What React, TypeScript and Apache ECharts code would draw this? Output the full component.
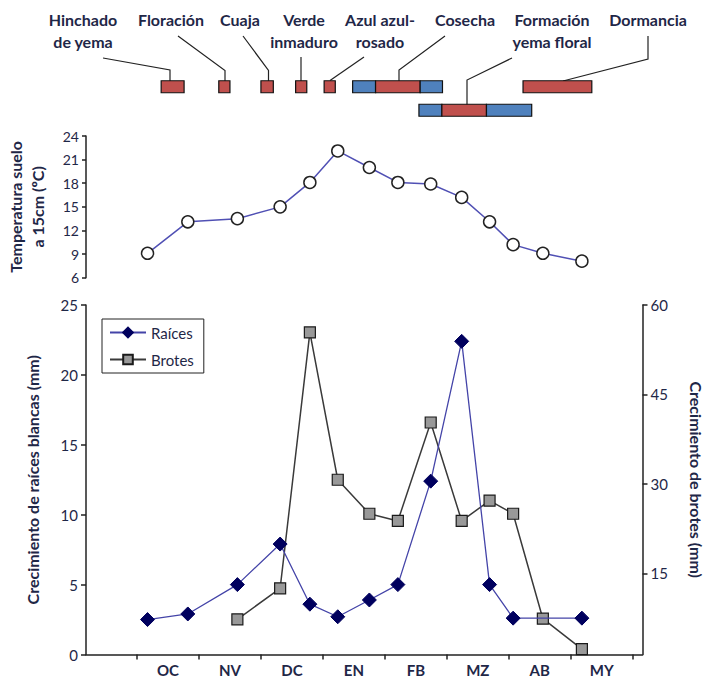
import React, { useEffect, useRef } from "react";
import * as echarts from "echarts";

// ---- data ----
const months = ["OC", "NV", "DC", "EN", "FB", "MZ", "AB", "MY"];
const monthTicks = [0, 1, 2, 3, 4, 5, 6, 7, 8];
const monthLabelPos = [0.5, 1.5, 2.5, 3.5, 4.5, 5.5, 6.5, 7.5];
// sampling dates, in months counted from 1 October
const sampleDates = [0.17, 0.82, 1.62, 2.31, 2.79, 3.24, 3.75, 4.21, 4.74, 5.24, 5.69, 6.07, 6.55, 7.18];
const temperatura = [9.1, 13.1, 13.5, 15, 18.1, 22.1, 20, 18.1, 17.9, 16.2, 13.1, 10.2, 9.1, 8.1];
const raices: (number | null)[] = [2.5, 2.9, 5, 7.9, 3.6, 2.7, 3.9, 5, 12.4, 22.4, 5, 2.6, null, 2.6];
const brotes: (number | null)[] = [null, null, 7.3, 12.5, 55.4, 30.7, 25, 23.8, 40.3, 23.8, 27.2, 25, 7.4, 2.3];
const tempTicks = [6, 24, 3];
const raicesTicks = [0, 25, 5];
const brotesLabels = [15, 30, 45, 60];

// phenology timeline (months from 1 October)
const phenoStart = [0.39, 1.32, 2.0, 2.56, 3.02, 3.48, 3.85, 4.57, 6.23, 4.55, 4.92, 5.64];
const phenoEnd = [0.76, 1.5, 2.2, 2.74, 3.2, 3.85, 4.57, 4.93, 7.34, 4.92, 5.64, 6.37];
const phenoRow = [0, 0, 0, 0, 0, 0, 0, 0, 0, 1, 1, 1];
const phenoKind = [0, 0, 0, 0, 0, 1, 0, 1, 0, 1, 0, 1]; // 0 red, 1 blue
const phenoLabels = [
  ["Hinchado", "de yema"],
  ["Floración"],
  ["Cuaja"],
  ["Verde", "inmaduro"],
  ["Azul azul-", "rosado"],
  ["Cosecha"],
  ["Formación", "yema floral"],
  ["Dormancia"],
];

const X_MIN = -0.823;
const X_MAX = 8.158;
const TXT = "#1f2747";
const FONT = "Lato";

export default function App() {
  const ref = useRef<HTMLDivElement>(null);
  useEffect(() => {
    if (!ref.current) return;
    const chart = echarts.init(ref.current, undefined, { renderer: "svg" });

    const raicesData = sampleDates
      .map((d, i) => [d, raices[i]])
      .filter((p) => p[1] !== null);
    const brotesData = sampleDates
      .map((d, i) => [d, brotes[i]])
      .filter((p) => p[1] !== null);
    const tempData = sampleDates.map((d, i) => [d, temperatura[i]]);
    const phenoData = phenoStart.map((s, i) => [s, phenoEnd[i], phenoRow[i], phenoKind[i]]);

    const labelPos: [number, number][] = [
      [83, 19.5],
      [171, 19.5],
      [240, 19.5],
      [304, 19.5],
      [380, 19.5],
      [465, 19.5],
      [552, 19.5],
      [648, 19.5],
    ];
    const leaders: number[][][] = [
      [[103, 58], [170, 70], [170, 81]],
      [[178, 36], [225, 70.5], [225, 81]],
      [[243, 36], [268.5, 70.5], [268.5, 82]],
      [[301, 57], [301, 81]],
      [[364, 57], [330, 80.5]],
      [[445, 36], [399, 70], [399, 81]],
      [[512, 58], [467, 80], [467, 105]],
      [[648, 36], [648, 59], [563, 81]],
    ];
    const graphics: any[] = [];
    phenoLabels.forEach((lines, i) => {
      lines.forEach((t, j) => {
        graphics.push({
          type: "text",
          x: labelPos[i][0],
          y: labelPos[i][1] + j * 22,
          style: {
            text: t,
            fill: TXT,
            font: `bold 16px ${FONT}`,
            textAlign: "center",
            textVerticalAlign: "middle",
            align: "center",
            verticalAlign: "middle",
          },
        });
      });
    });
    leaders.forEach((pts) => {
      graphics.push({
        type: "polyline",
        shape: { points: pts },
        style: { stroke: "#222", lineWidth: 1.2, fill: null },
      });
    });

    const axisLineStyle = { color: "#222", width: 1.5 };

    chart.setOption({
      animation: false,
      textStyle: { fontFamily: FONT },
      graphic: graphics,
      grid: [
        { left: 86, right: 64.5, top: 305, height: 349.5, containLabel: false, outerBoundsMode: "none" },
        { left: 86, right: 64.5, top: 136, height: 141.7, containLabel: false, outerBoundsMode: "none" },
        { left: 86, right: 64.5, top: 75, height: 47, containLabel: false, outerBoundsMode: "none" },
      ],
      legend: {
        left: 102,
        top: 319,
        orient: "vertical",
        data: ["Raíces", "Brotes"],
        padding: [6, 10, 6, 7],
        itemGap: 12,
        itemWidth: 36,
        itemHeight: 12,
        borderColor: "#222",
        borderWidth: 1,
        textStyle: { fontSize: 15, color: TXT, fontFamily: FONT },
      },
      xAxis: [
        {
          type: "value",
          gridIndex: 0,
          min: X_MIN,
          max: X_MAX,
          splitLine: { show: false },
          axisLine: { onZero: false, lineStyle: axisLineStyle },
          axisTick: { show: true, length: 5, customValues: monthTicks, lineStyle: axisLineStyle },
          axisLabel: {
            customValues: monthLabelPos,
            formatter: (v: number) => months[Math.floor(v)] ?? "",
            fontSize: 15,
            fontWeight: "bold",
            color: TXT,
            margin: 8,
          },
        },
        { type: "value", gridIndex: 1, min: X_MIN, max: X_MAX, show: false },
        { type: "value", gridIndex: 2, min: X_MIN, max: X_MAX, show: false },
      ],
      yAxis: [
        {
          type: "value",
          gridIndex: 0,
          min: raicesTicks[0],
          max: raicesTicks[1],
          interval: raicesTicks[2],
          splitLine: { show: false },
          axisLine: { show: true, onZero: false, lineStyle: axisLineStyle },
          axisTick: { show: true, length: 5, lineStyle: axisLineStyle },
          axisLabel: { fontSize: 15, color: TXT, margin: 8 },
          name: "Crecimiento de raíces blancas (mm)",
          nameLocation: "middle",
          nameRotate: 90,
          nameGap: 46,
          nameTextStyle: { fontSize: 16, fontWeight: "bold", color: TXT },
        },
        {
          type: "value",
          gridIndex: 0,
          position: "right",
          min: 1.4,
          max: 60,
          splitLine: { show: false },
          axisLine: { show: true, onZero: false, lineStyle: axisLineStyle },
          axisTick: { show: true, length: 5, customValues: brotesLabels, lineStyle: axisLineStyle },
          axisLabel: { fontSize: 15, color: TXT, margin: 8, customValues: brotesLabels },
          name: "Crecimiento de brotes (mm)",
          nameLocation: "middle",
          nameRotate: -90,
          nameGap: 46,
          nameTextStyle: { fontSize: 16, fontWeight: "bold", color: TXT },
        },
        {
          type: "value",
          gridIndex: 1,
          min: tempTicks[0],
          max: tempTicks[1],
          interval: tempTicks[2],
          splitLine: { show: false },
          axisLine: { show: true, onZero: false, lineStyle: axisLineStyle },
          axisTick: { show: true, length: 4, lineStyle: axisLineStyle },
          axisLabel: { fontSize: 14, color: TXT, margin: 7 },
          name: "Temperatura suelo\na 15cm (ºC)",
          nameLocation: "middle",
          nameRotate: 90,
          nameGap: 38,
          nameTextStyle: { fontSize: 16, fontWeight: "bold", color: TXT, lineHeight: 22 },
        },
        {
          type: "category",
          gridIndex: 2,
          data: ["0", "1"],
          inverse: true,
          show: false,
        },
      ],
      series: [
        {
          name: "Brotes",
          type: "line",
          xAxisIndex: 0,
          yAxisIndex: 1,
          data: brotesData,
          symbol: "rect",
          symbolSize: 11,
          lineStyle: { color: "#3a3a3a", width: 1.5 },
          itemStyle: { color: "#999999", borderColor: "#1a1a1a", borderWidth: 1.2 },
          z: 3,
        },
        {
          name: "Raíces",
          type: "line",
          xAxisIndex: 0,
          yAxisIndex: 0,
          data: raicesData,
          symbol: "diamond",
          symbolSize: 14,
          lineStyle: { color: "#4444a8", width: 1.3 },
          itemStyle: { color: "#00005e", borderColor: "#00005e", borderWidth: 1 },
          z: 4,
        },
        {
          name: "Temperatura",
          type: "line",
          xAxisIndex: 1,
          yAxisIndex: 2,
          data: tempData,
          symbol: "circle",
          symbolSize: 12,
          lineStyle: { color: "#5050b4", width: 1.5 },
          itemStyle: { color: "#ffffff", borderColor: "#222", borderWidth: 1.5 },
        },
        {
          name: "Fenología",
          type: "custom",
          xAxisIndex: 2,
          yAxisIndex: 3,
          data: phenoData,
          encode: { x: [0, 1], y: 2 },
          renderItem: (params: any, api: any) => {
            const s = api.value(0);
            const e = api.value(1);
            const row = api.value(2);
            const kind = api.value(3);
            const p0 = api.coord([s, row]);
            const p1 = api.coord([e, row]);
            const h = 12;
            return {
              type: "rect",
              shape: { x: p0[0], y: p0[1] - h / 2, width: p1[0] - p0[0], height: h },
              style: {
                fill: kind === 0 ? "#c0504d" : "#4f81bd",
                stroke: "#111",
                lineWidth: 1.2,
              },
            };
          },
        },
      ],
    });
    return () => chart.dispose();
  }, []);
  return (
    <div
      ref={ref}
      style={{ position: "fixed", left: 0, top: 0, width: 707, height: 678, background: "#fff" }}
    />
  );
}
